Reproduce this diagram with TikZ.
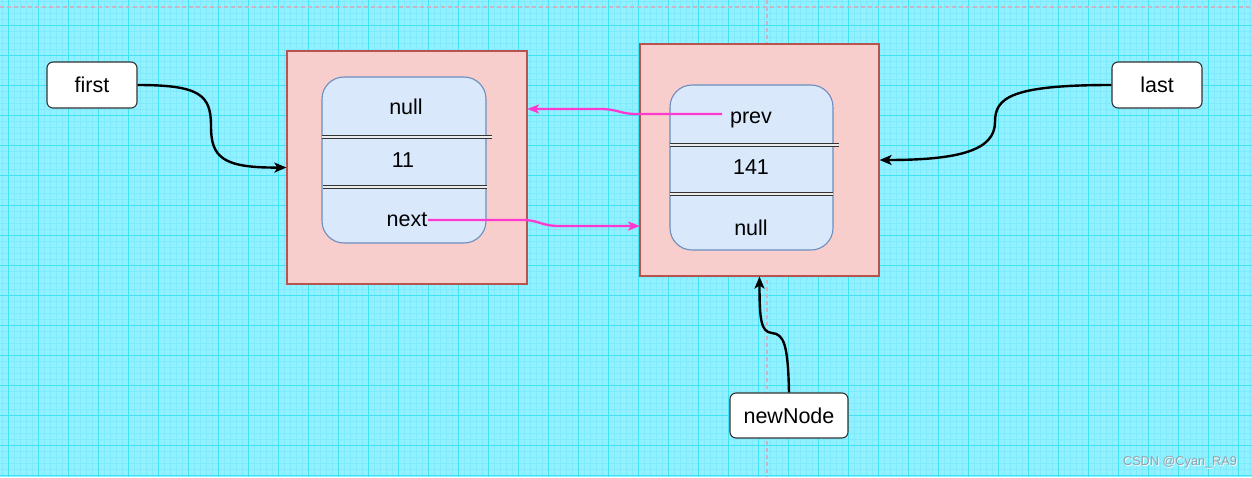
\documentclass[tikz,border=0pt]{standalone}
\usepackage{fontspec}
\setmainfont{Liberation Sans}
\usetikzlibrary{arrows.meta}
\definecolor{bgc}{RGB}{146,240,255}
\definecolor{minorc}{RGB}{128,233,251}
\definecolor{majorc}{RGB}{64,226,244}
\definecolor{redfill}{RGB}{248,206,204}
\definecolor{redline}{RGB}{184,84,80}
\definecolor{bluefill}{RGB}{218,232,252}
\definecolor{blueline}{RGB}{108,142,191}
\definecolor{pinkc}{RGB}{255,56,208}
\definecolor{guidec}{RGB}{205,180,195}
\definecolor{wmc}{RGB}{150,160,165}
\tikzset{
  lbl/.style={rectangle, rounded corners=6pt, draw=black!80, fill=white, line width=1.1pt,
    font=\fontsize{21.5}{26}\selectfont, inner sep=0pt},
  outerbox/.style={rectangle, draw=redline, fill=redfill, line width=1.2pt, inner sep=0pt},
  innerbox/.style={rectangle, rounded corners=22pt, draw=blueline, fill=bluefill, line width=1.1pt, inner sep=0pt},
  txt/.style={font=\fontsize{21.5}{26}\selectfont, inner sep=0pt},
  dbl/.style={draw=black!80, line width=1pt, double=white!85!gray, double distance=1.3pt},
  blk/.style={draw=black, line width=2.4pt, -{Stealth[length=12pt,width=10pt,inset=3pt]}},
  pnk/.style={draw=pinkc, line width=2.3pt, -{Stealth[length=12pt,width=9pt,inset=3pt]}},
}
\begin{document}
\begin{tikzpicture}[x=1pt,y=-1pt]
\useasboundingbox (0,0) rectangle (1252,477);
\fill[bgc] (0,0) rectangle (1252,477);
% minor grid
\foreach \i in {0,...,210} {
  \pgfmathsetmacro\xx{2+6*\i}
  \ifdim\xx pt<1252pt \draw[minorc, line width=0.45pt] (\xx,0) -- (\xx,477); \fi
}
\foreach \i in {0,...,80} {
  \pgfmathsetmacro\yy{1+6*\i}
  \ifdim\yy pt<477pt \draw[minorc, line width=0.45pt] (0,\yy) -- (1252,\yy); \fi
}
% major grid
\foreach \i in {0,...,42} {
  \pgfmathsetmacro\xx{8+30*\i}
  \ifdim\xx pt<1252pt \draw[majorc, line width=1pt] (\xx,0) -- (\xx,477); \fi
}
\foreach \i in {0,...,16} {
  \pgfmathsetmacro\yy{25+30*\i}
  \ifdim\yy pt<477pt \draw[majorc, line width=1pt] (0,\yy) -- (1252,\yy); \fi
}
% guide lines
\draw[guidec, line width=1.2pt, dash pattern=on 4pt off 3pt] (0,7) -- (1252,7);
\draw[guidec, line width=1.2pt, dash pattern=on 4pt off 3pt] (767,0) -- (767,477);

% boxes
\node[outerbox, minimum width=240pt, minimum height=233pt] (lbox) at (407,167.5) {};
\node[innerbox, minimum width=164pt, minimum height=166pt] (lin) at (404,160) {};
\node[outerbox, minimum width=239pt, minimum height=232pt] (rbox) at (759.5,160) {};
\node[innerbox, minimum width=163pt, minimum height=165pt] (rin) at (751.5,167.5) {};

\draw[dbl] (322,137) -- (492,137);
\draw[dbl] (323,187) -- (487,187);
\draw[dbl] (670,145) -- (839,145);
\draw[dbl] (670,194) -- (833,194);

\node[txt] (lnull) at (406,107) {null};
\node[txt] (l11) at (403,160) {11};
\node[txt] (lnext) at (407,220) {next};
\node[txt] (rprev) at (751,120) {prev};
\node[txt] (r141) at (751,167) {141};
\node[txt] (rnull) at (751,228) {null};

% label nodes
\node[lbl, minimum width=90pt, minimum height=46pt] (first) at (92,85) {first};
\node[lbl, minimum width=90pt, minimum height=46pt] (last) at (1157,85) {last};
\node[lbl, minimum width=118pt, minimum height=45pt] (newNode) at (789,415.5) {newNode};

% black connectors
\draw[blk] (first.east) .. controls (200,85) and (211,95) .. (211,126)
  .. controls (211,157) and (222,168) .. (lbox.west);
\draw[blk] (last.west) .. controls (1010,85) and (995,98) .. (995,122)
  .. controls (995,150) and (960,160) .. (rbox.east);
\draw[blk] (newNode.north) .. controls (788,345) and (784,334) .. (772,333)
  .. controls (761,332) and (759.5,320) .. (rbox.south);

% pink connectors
\coordinate (ps) at (722,114);
\coordinate (pe) at (527,109);
\coordinate (ns) at (428,220);
\coordinate (ne) at (640,226);
\draw[pnk] (ps) -- (636,114) .. controls (620,114) and (618,109) .. (600,109) -- (pe);
\draw[pnk] (ns) -- (522,220) .. controls (540,220) and (540,226) .. (560,226) -- (ne);

% watermark
\node[font=\fontsize{12.7}{15}\selectfont, text=white, inner sep=0pt] at (1180.8,462.8) {CSDN @Cyan\_RA9};
\node[font=\fontsize{12.7}{15}\selectfont, text=wmc, inner sep=0pt] (wm) at (1180,462) {CSDN @Cyan\_RA9};
\end{tikzpicture}
\end{document}
